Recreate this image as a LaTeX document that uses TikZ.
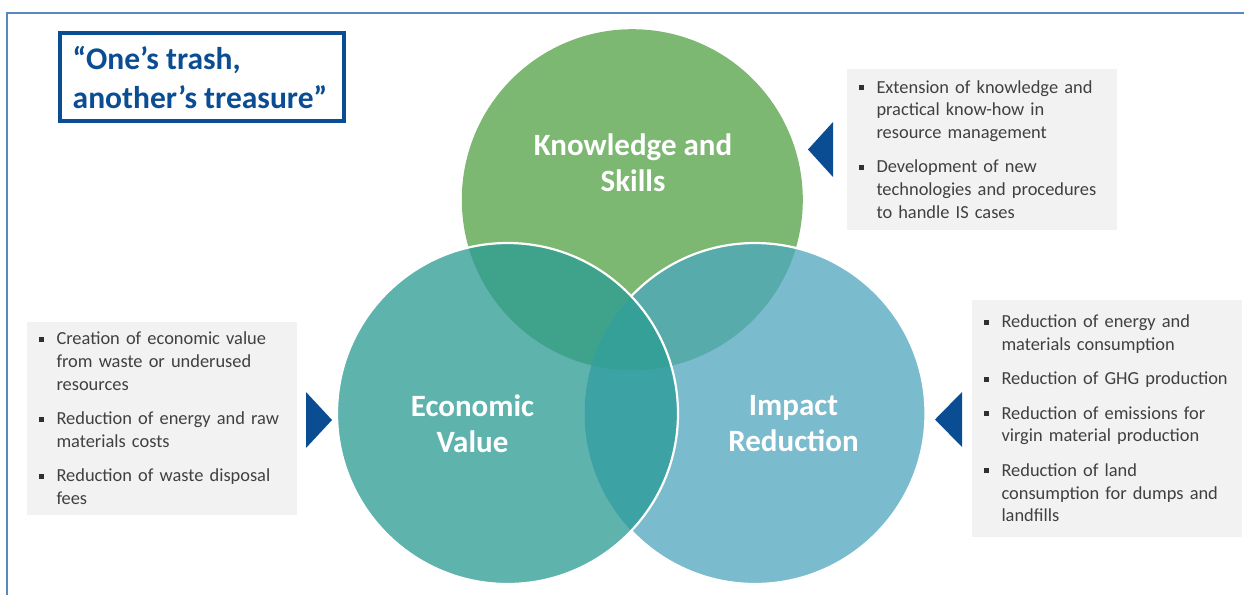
\documentclass[tikz,border=0pt]{standalone}
\usepackage{fontspec}
\setmainfont{Carlito}
\definecolor{gcol}{HTML}{7CB872}
\definecolor{ecol}{HTML}{5FB3AD}
\definecolor{icol}{HTML}{7BBBCE}
\definecolor{gecol}{HTML}{3EA38A}
\definecolor{gicol}{HTML}{57ABAA}
\definecolor{eicol}{HTML}{3DA2A3}
\definecolor{geicol}{HTML}{35A098}
\definecolor{darkblue}{HTML}{0B4D92}
\definecolor{framecol}{HTML}{5B87C0}
\definecolor{boxgray}{HTML}{F2F2F2}
\definecolor{textgray}{HTML}{404040}
\definecolor{bulletcol}{HTML}{303030}
\newcommand\mybul{\makebox[18pt][l]{\textcolor{bulletcol}{\rule[2.8pt]{5pt}{5pt}}}}
\newcommand\bitem[1]{\hangindent=18pt\hangafter=1\relax\mybul#1\par}
\newcommand\boxsetup{\parindent=0pt\relax\parskip=11.5pt\relax\hyphenpenalty=10000\relax\exhyphenpenalty=10000\relax}
\tikzset{
  infobox/.style={fill=boxgray, text=textgray, align=left, inner xsep=11.5pt,
    inner ysep=0pt, text width=247pt, minimum width=270pt,
    font=\fontsize{18.4}{22.8}\selectfont},
  circlabel/.style={text=white, align=center, inner sep=0pt,
    font=\fontsize{31}{36}\selectfont\bfseries},
  arrowtri/.style={fill=darkblue},
  outline/.style={draw=white, line width=2.2pt}
}
\begin{document}
\begin{tikzpicture}[x=1pt,y=-1pt]
\useasboundingbox (0,0) rectangle (1244,595);
% frame
\draw[framecol, line width=2pt] (7,595) -- (7,13) -- (1244,13);
% circle centres
\coordinate (G) at (632.3,199.7);
\coordinate (E) at (507.5,413.5);
\coordinate (I) at (755,413.5);
\def\R{170.5}
% base fills
\fill[gcol] (G) circle (\R);
\fill[ecol] (E) circle (\R);
\fill[icol] (I) circle (\R);
% pairwise overlaps
\begin{scope}
  \clip (G) circle (\R);
  \fill[gecol] (E) circle (\R);
  \fill[gicol] (I) circle (\R);
\end{scope}
\begin{scope}
  \clip (E) circle (\R);
  \fill[eicol] (I) circle (\R);
\end{scope}
\begin{scope}
  \clip (G) circle (\R);
  \clip (E) circle (\R);
  \fill[geicol] (I) circle (\R);
\end{scope}
% white outlines
\begin{scope}[even odd rule]
  \clip (0,0) rectangle (1244,595) (E) circle (\R);
  \draw[outline] (I) circle (\R);
\end{scope}
\draw[outline] (E) circle (\R);
% circle labels
\node[circlabel] (know) at (633,162.5) {Knowledge and\\Skills};
\node[circlabel] (econ) at (472.5,423.5) {Economic\\Value};
\node[circlabel] (impact) at (793.5,423.5) {Impact\\Reduction};
% title
\draw[darkblue, line width=4pt] (60,33) rectangle (344,121);
\node[anchor=center, align=left, inner sep=0pt, text=darkblue,
  font=\fontsize{31.5}{39}\selectfont\bfseries] (title) at (200,77)
  {“One’s trash,\\another’s treasure”};
% info boxes
\node[infobox, minimum height=161pt] (boxk) at (982,149.5) {\boxsetup
  \bitem{Extension of knowledge and\newline practical know-how in\newline resource management}%
  \bitem{Development of new\newline technologies and procedures\newline to handle IS cases}};
\node[infobox, minimum height=193pt] (boxe) at (162,418.5) {\boxsetup
  \bitem{Creation of economic value\newline from waste or underused\newline resources}%
  \bitem{Reduction of energy and raw\newline materials costs}%
  \bitem{Reduction of waste disposal\newline fees}};
\node[infobox, minimum height=237pt] (boxi) at (1107,418.5) {\boxsetup
  \bitem{Reduction of energy and\newline materials consumption}%
  \bitem{Reduction of GHG production}%
  \bitem{Reduction of emissions for\newline virgin material production}%
  \bitem{Reduction of land\newline consumption for dumps and\newline landfills}};
% triangles
\fill[arrowtri] (833,122) -- (833,177) -- (808,149.5) -- cycle;
\fill[arrowtri] (306,392) -- (306,448) -- (332,420) -- cycle;
\fill[arrowtri] (962,392) -- (962,447) -- (935,419.5) -- cycle;
\end{tikzpicture}
\end{document}
